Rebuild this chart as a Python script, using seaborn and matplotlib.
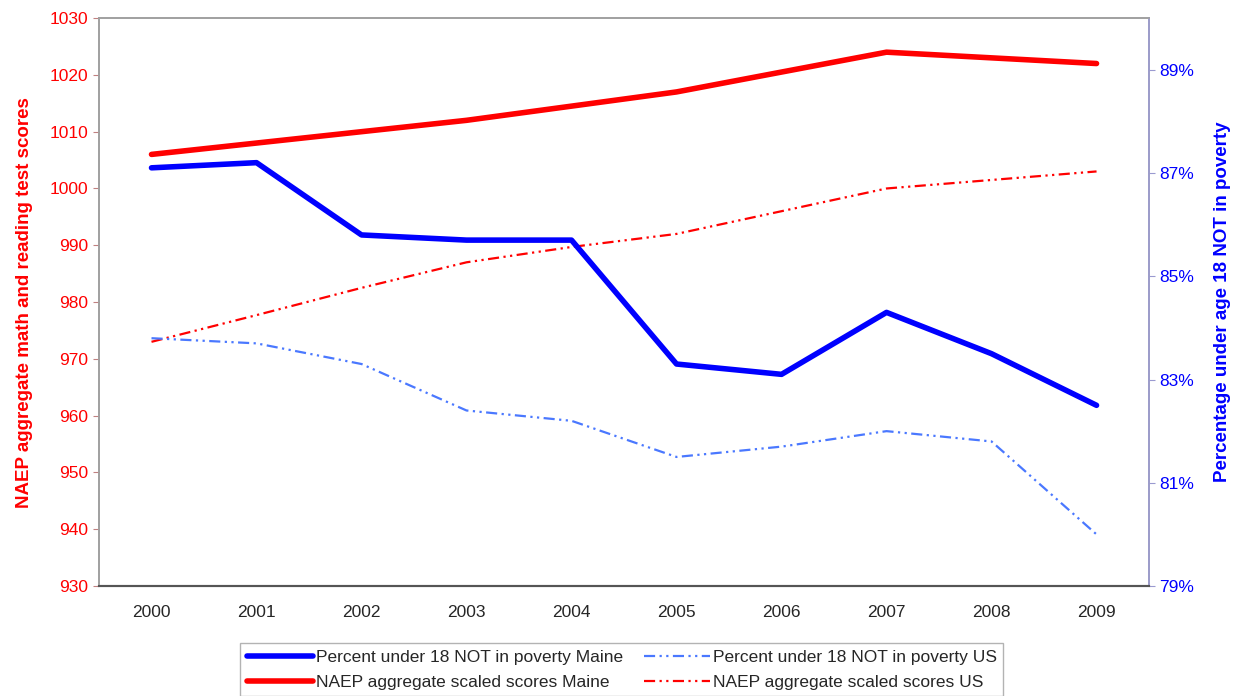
"""
NAEP scores vs. share of children not in poverty, Maine and US, 2000-2009
"""

import pandas as pd
import matplotlib
matplotlib.use('Agg')
import matplotlib.pyplot as plt
from matplotlib.ticker import FixedLocator, PercentFormatter
import seaborn as sns

# ── Data ──────────────────────────────────────────────────────
years = ['2000', '2001', '2002', '2003', '2004',
         '2005', '2006', '2007', '2008', '2009']

naep_maine = [1006, 1008, 1010, 1012, 1014.5, 1017, 1020.5, 1024, 1023, 1022]
naep_us    = [973, 977.7, 982.5, 987, 989.7, 992, 996, 1000, 1001.5, 1003]

pov_maine  = [87.1, 87.2, 85.8, 85.7, 85.7, 83.3, 83.1, 84.3, 83.5, 82.5]
pov_us     = [83.8, 83.7, 83.3, 82.4, 82.2, 81.5, 81.7, 82.0, 81.8, 80.0]

left_ticks  = [930, 940, 950, 960, 970, 980, 990, 1000, 1010, 1020, 1030]
right_ticks = [79, 81, 83, 85, 87, 89]

lbl_pov_maine  = 'Percent under 18 NOT in poverty Maine'
lbl_pov_us     = 'Percent under 18 NOT in poverty US'
lbl_naep_maine = 'NAEP aggregate scaled scores Maine'
lbl_naep_us    = 'NAEP aggregate scaled scores US'

df = pd.DataFrame({'year': years, 'x': range(len(years)),
                   'naep_maine': naep_maine, 'naep_us': naep_us,
                   'pov_maine': pov_maine, 'pov_us': pov_us})

# ── Style ─────────────────────────────────────────────────────
sns.set_style('white')
plt.rcParams['font.family'] = ['Liberation Sans', 'DejaVu Sans']

RED   = '#ff0000'
BLUE  = '#0000ff'
LBLUE = '#4a78ff'
dashdotdot = (0, (5, 2, 1, 2, 1, 2))

fig = plt.figure(figsize=(12.39, 6.96), dpi=100)
ax = fig.add_axes([0.0799, 0.158, 0.8475, 0.816])
ax2 = ax.twinx()

# ── Lines ─────────────────────────────────────────────────────
sns.lineplot(data=df, x='x', y='naep_us', ax=ax, color=RED,
             lw=1.6, linestyle=dashdotdot, label=lbl_naep_us, legend=False)
sns.lineplot(data=df, x='x', y='naep_maine', ax=ax, color=RED,
             lw=4, solid_capstyle='round', label=lbl_naep_maine, legend=False)
sns.lineplot(data=df, x='x', y='pov_us', ax=ax2, color=LBLUE,
             lw=1.6, linestyle=dashdotdot, label=lbl_pov_us, legend=False)
sns.lineplot(data=df, x='x', y='pov_maine', ax=ax2, color=BLUE,
             lw=4, solid_capstyle='round', label=lbl_pov_maine, legend=False)

# ── Axes ──────────────────────────────────────────────────────
ax.set_xlim(-0.5, len(years) - 0.5)
ax.set_xticks(df['x'])
ax.set_xticklabels(years, fontsize=12.5)
ax.xaxis.set_minor_locator(FixedLocator([i - 0.5 for i in range(len(years) + 1)]))
ax.tick_params(axis='x', which='major', length=0, pad=14)
ax.tick_params(axis='x', which='minor', length=5, color='#555555', direction='out')

ax.set_ylim(930, 1030)
ax.set_yticks(left_ticks)
ax.tick_params(axis='y', colors=RED, labelsize=12.5, length=4, direction='out')
ax.set_ylabel('NAEP aggregate math and reading test scores',
              color=RED, fontsize=13.5, fontweight='bold', labelpad=12)
ax.set_xlabel('')

ax2.set_ylim(79, 90)
ax2.set_yticks(right_ticks)
ax2.yaxis.set_major_formatter(PercentFormatter(decimals=0))
ax2.tick_params(axis='y', colors=BLUE, labelsize=12.5, length=4, direction='out')
ax2.set_ylabel('Percentage under age 18 NOT in poverty',
               color=BLUE, fontsize=13.5, fontweight='bold', labelpad=14)

for a in (ax, ax2):
    for s in a.spines.values():
        s.set_color('#a0a0a0')
        s.set_linewidth(1.2)
ax.spines['bottom'].set_color('#555555')
ax.spines['bottom'].set_linewidth(1.5)
ax2.spines['bottom'].set_color('#555555')
ax2.spines['bottom'].set_linewidth(1.5)
ax2.spines['right'].set_color('#9a9ad0')
ax.tick_params(axis='y', which='major', color='#c08080')
ax2.tick_params(axis='y', which='major', color='#9a9ad0')

# ── Legend ────────────────────────────────────────────────────
h1, l1 = ax.get_legend_handles_labels()
h2, l2 = ax2.get_legend_handles_labels()
hmap = dict(zip(l1 + l2, h1 + h2))
order = [lbl_pov_maine, lbl_naep_maine, lbl_pov_us, lbl_naep_us]
fig.legend([hmap[k] for k in order], order, ncol=2,
           loc='upper center', bbox_to_anchor=(0.502, 0.088),
           fontsize=12.5, frameon=True, fancybox=False, edgecolor='#a0a0a0',
           handlelength=3.8, handletextpad=0.2, columnspacing=1.2,
           labelspacing=0.6, borderpad=0.35)

fig.savefig('out.png', dpi=100)
plt.close(fig)
